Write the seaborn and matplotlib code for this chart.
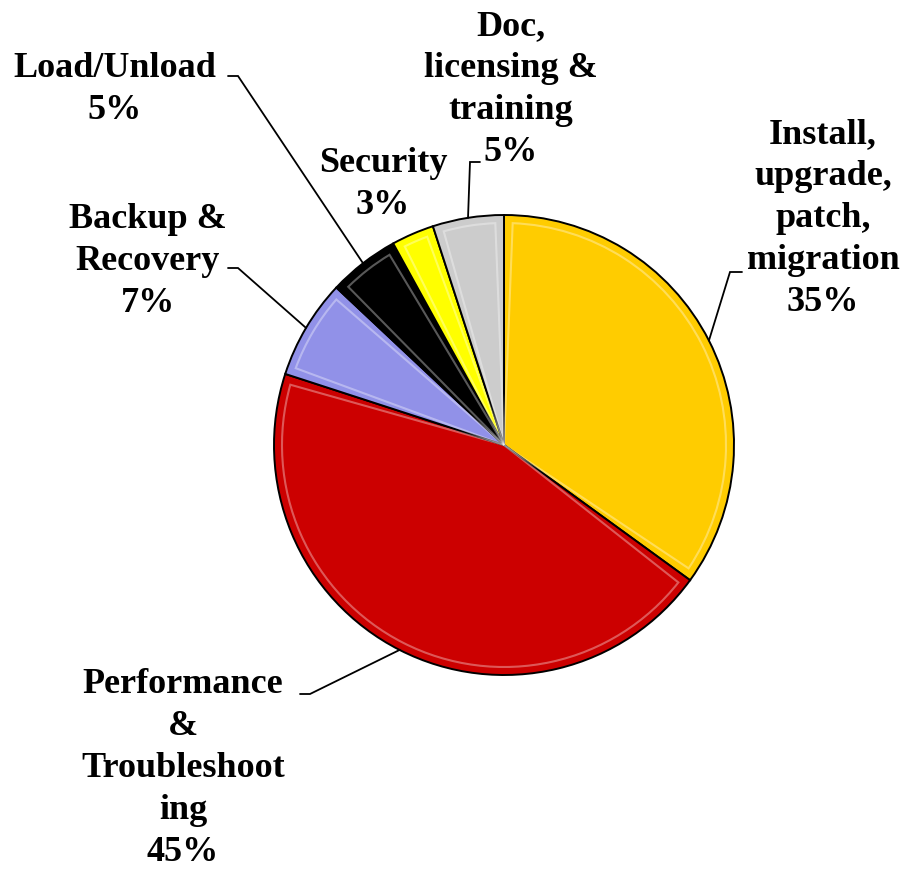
import numpy as np
import matplotlib
matplotlib.use("Agg")
import matplotlib.pyplot as plt
from matplotlib.patches import Wedge
import seaborn as sns

# slices, clockwise from 12 o'clock
categories = ["Install, upgrade, patch, migration", "Performance & Troubleshooting",
              "Backup & Recovery", "Load/Unload", "Security", "Doc, licensing & training"]
shares = [35, 45, 7, 5, 3, 5]
label_lines = [
    ["Install,", "upgrade,", "patch,", "migration"],
    ["Performance", "&", "Troubleshoot", "ing"],
    ["Backup &", "Recovery"],
    ["Load/Unload"],
    ["Security"],
    ["Doc,", "licensing &", "training"],
]
colors = ["#FFCC00", "#CC0000", "#9191E8", "#000000", "#FFFF00", "#CCCCCC"]

W, H = 908, 869
CX, CY, R = 504, H - 445, 230
PITCH = 42.0  # px between baselines

sns.set_style("white")
plt.rcParams["font.family"] = ["Liberation Serif", "DejaVu Serif"]

fig = plt.figure(figsize=(W / 100, H / 100), dpi=100)
ax = fig.add_axes([0, 0, 1, 1])

wedges, _ = ax.pie(shares, colors=colors, startangle=90, counterclock=False,
                   center=(CX, CY), radius=R, frame=True,
                   wedgeprops=dict(edgecolor="black", linewidth=1.4))
ax.set_xlim(0, W)
ax.set_ylim(0, H)
ax.axis("off")

# faint bevel: a light inset outline inside every slice
for w in wedges:
    inset = np.rad2deg(9 / (R * 0.5))
    t1, t2 = w.theta1, w.theta2
    if t2 - t1 > 2 * inset:
        ax.add_patch(Wedge((CX, CY), R - 8, t1 + inset / 2, t2 - inset / 2,
                           fill=False, edgecolor="white", alpha=0.35, lw=1.5))

# label layout in pixel coords from top-left: (x center, first baseline,
#   leader elbow, leader end) -- None means no leader
layout = [
    (823, 143, (730, 272), (742, 272)),
    (183, 693, (310, 694), (300, 694)),
    (148, 228, (238, 268), (228, 268)),
    (115, 77, (238, 76), (228, 76)),
    (383, 172, None, None),
    (511, 35, (470, 162), (480, 162)),
]

for w, lines, share, (tx, tb, elbow, end) in zip(wedges, label_lines, shares, layout):
    for i, line in enumerate(lines + [f"{share}%"]):
        ax.text(tx, H - (tb + i * PITCH), line, ha="center", va="baseline",
                fontsize=26, fontweight="bold", color="black")
    if elbow is None:
        continue
    mid = np.deg2rad((w.theta1 + w.theta2) / 2)
    px, py = CX + R * np.cos(mid), CY + R * np.sin(mid)
    ax.plot([px, elbow[0], end[0]], [py, H - elbow[1], H - end[1]],
            color="black", lw=1.3, solid_joinstyle="miter")

fig.savefig("out.png", dpi=100, facecolor="white")
